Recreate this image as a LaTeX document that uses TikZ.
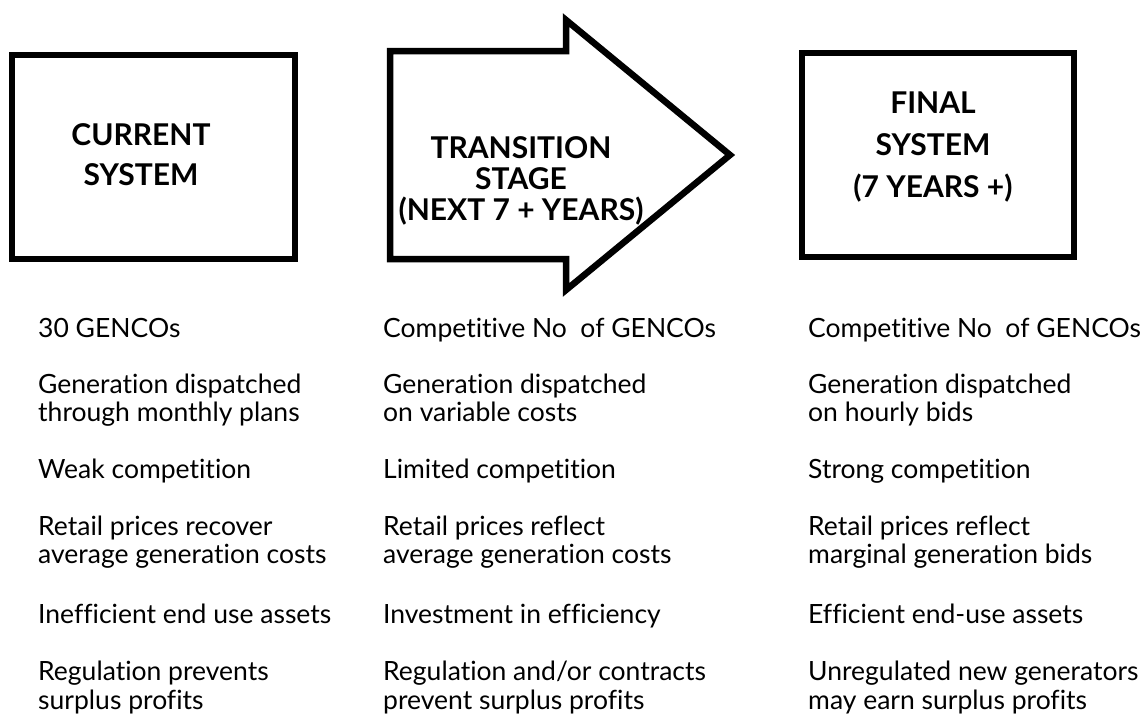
\documentclass[tikz,border=0pt]{standalone}
\usepackage{fontspec}
\setmainfont{Lato}[Ligatures=NoCommon]
\begin{document}
\begin{tikzpicture}[x=1pt,y=-1pt,
  frame/.style={draw=black,line width=6.5pt,inner sep=0pt},
  title/.style={font=\fontsize{30}{40}\selectfont\bfseries,align=center,inner sep=0pt,anchor=north},
  item/.style={font=\fontsize{26.5}{28.5}\selectfont,align=left,inner sep=0pt,anchor=base west}]
\useasboundingbox (0,0) rectangle (1144,715);

% stage boxes
\node[frame,minimum width=283pt,minimum height=204pt] (cur) at (153.5,157) {};
\node[frame,minimum width=272pt,minimum height=204pt] (fin) at (938,155) {};
% transition arrow
\draw[line width=6.5pt,line join=miter] (390,51) -- (566,51) -- (566,20) -- (730,155)
  -- (566,290) -- (566,259) -- (390,259) -- cycle;

% stage titles
\node[title] (curT) at (141,123) {CURRENT\\SYSTEM};
\node[title,font=\fontsize{30}{31}\selectfont\bfseries] (traT) at (521,136) {TRANSITION\\STAGE\\(NEXT 7 + YEARS)};
\node[title,font=\fontsize{30}{42}\selectfont\bfseries] (finT) at (933,92) {FINAL\\SYSTEM\\(7 YEARS +)};

% current system (each item is anchored at the baseline of its last line)
\node[item] (c1) at (38,337) {30 GENCOs};
\node[item] (c2) at (38,421.5) {Generation dispatched\\through monthly plans};
\node[item] (c3) at (38,478) {Weak competition};
\node[item] (c4) at (38,563.5) {Retail prices recover\\average generation costs};
\node[item] (c5) at (38,623) {Inefficient end use assets};
\node[item] (c6) at (38,709) {Regulation prevents\\surplus profits};

% transition stage
\node[item] (t1) at (383,337) {Competitive No\ \ of GENCOs};
\node[item] (t2) at (383,421.5) {Generation dispatched\\on variable costs};
\node[item] (t3) at (383,478) {Limited competition};
\node[item] (t4) at (383,563.5) {Retail prices reflect\\average generation costs};
\node[item] (t5) at (383,623) {Investment in efficiency};
\node[item] (t6) at (383,709) {Regulation and/or contracts\\prevent surplus profits};

% final system
\node[item] (f1) at (808,337) {Competitive No\ \ of GENCOs};
\node[item] (f2) at (808,421.5) {Generation dispatched\\on hourly bids};
\node[item] (f3) at (808,478) {Strong competition};
\node[item] (f4) at (808,563.5) {Retail prices reflect\\marginal generation bids};
\node[item] (f5) at (808,623) {Efficient end-use assets};
\node[item] (f6) at (808,709) {Unregulated new generators\\may earn surplus profits};
\end{tikzpicture}
\end{document}
